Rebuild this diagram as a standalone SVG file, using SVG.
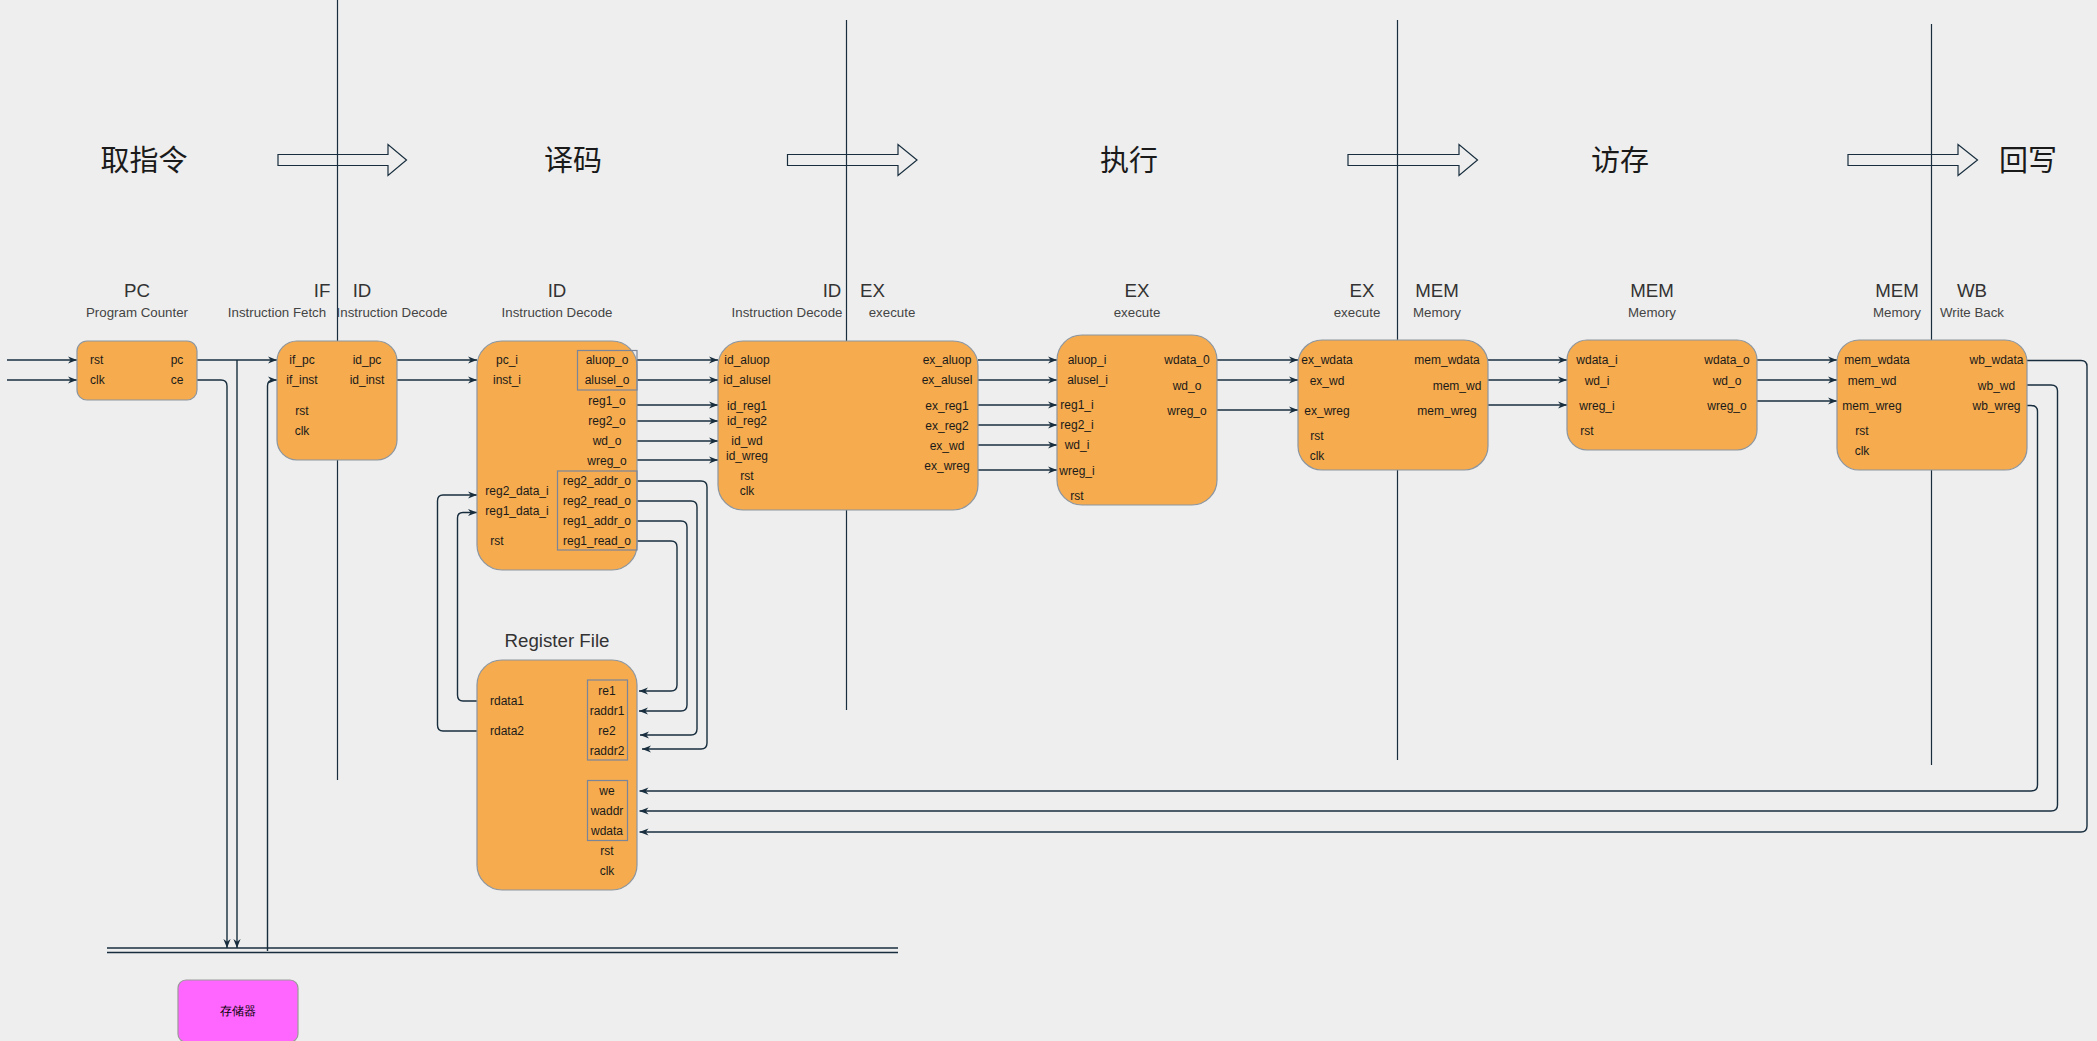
<svg xmlns="http://www.w3.org/2000/svg" width="2097" height="1041" viewBox="0 0 2097 1041">
<defs>
<marker id="ah" viewBox="0 0 10 10" refX="10" refY="5" markerWidth="9" markerHeight="9" markerUnits="userSpaceOnUse" orient="auto">
<path d="M0,1 L10,5 L0,9 L3,5 z" fill="#182E3E"/>
</marker>
<style>
.box{fill:#F5AB4E;stroke:#8C96A0;stroke-width:1.2}
.grp{fill:none;stroke:#7A8599;stroke-width:1.2}
.sep{stroke:#182E3E;stroke-width:1.2}
.ln{fill:none;stroke:#182E3E;stroke-width:1.4}
.ar{fill:none;stroke:#182E3E;stroke-width:1.4;marker-end:url(#ah)}
.blk{fill:none;stroke:#182E3E;stroke-width:1.2}
text{font-family:"Liberation Sans",Arial,Helvetica,sans-serif}
.t{font-size:18.7px;fill:#333;text-anchor:middle}
.s{font-size:13.3px;fill:#444;text-anchor:middle}
.p{font-size:12px;fill:#1a1a1a;text-anchor:middle;dominant-baseline:central}
.ps{font-size:12px;fill:#1a1a1a;text-anchor:start;dominant-baseline:central}
.cn{font-family:"Noto Sans CJK SC","Liberation Sans",sans-serif;font-size:29px;fill:#1a1a1a;text-anchor:middle}
</style>
</defs>
<rect x="0" y="0" width="2097" height="1041" fill="#EEEEEE"/>

<g id="separators">
<line class="sep" x1="337.5" y1="0" x2="337.5" y2="780"/>
<line class="sep" x1="846.5" y1="20" x2="846.5" y2="710"/>
<line class="sep" x1="1397.5" y1="20" x2="1397.5" y2="760"/>
<line class="sep" x1="1931.5" y1="24" x2="1931.5" y2="765"/>
</g>

<g id="stages">
<text class="cn" x="144" y="171">取指令</text>
<text class="cn" x="573" y="171">译码</text>
<text class="cn" x="1129" y="171">执行</text>
<text class="cn" x="1620" y="171">访存</text>
<text class="cn" x="2028" y="171">回写</text>
<polygon class="blk" points="278,154.5 388,154.5 388,144.5 406.5,160 388,175.5 388,165.5 278,165.5"/>
<polygon class="blk" points="787.5,154.5 898,154.5 898,144.5 917,160 898,175.5 898,165.5 787.5,165.5"/>
<polygon class="blk" points="1348,154.5 1459,154.5 1459,144.5 1477.5,160 1459,175.5 1459,165.5 1348,165.5"/>
<polygon class="blk" points="1848,154.5 1958,154.5 1958,144.5 1977.5,160 1958,175.5 1958,165.5 1848,165.5"/>
</g>

<g id="bus">
<line class="ln" x1="107" y1="948" x2="898" y2="948"/>
<line class="ln" x1="107" y1="952.5" x2="898" y2="952.5"/>
</g>

<g id="connectors">
<path class="ar" d="M7,360 H77"/>
<path class="ar" d="M7,380 H77"/>
<path class="ar" d="M197,360 H277"/>
<path class="ar" d="M237,360 V948"/>
<path class="ar" d="M197,380 H221 Q227,380 227,386 V948"/>
<path class="ar" d="M267.5,951 V386 Q267.5,380 273.5,380 H277"/>
<path class="ar" d="M397,360 H477"/>
<path class="ar" d="M397,380 H477"/>
<path class="ar" d="M637,360 H718"/>
<path class="ar" d="M637,380 H718"/>
<path class="ar" d="M637,405 H718"/>
<path class="ar" d="M637,421 H718"/>
<path class="ar" d="M637,441 H718"/>
<path class="ar" d="M637,460 H718"/>
<path class="ar" d="M978,360 H1057"/>
<path class="ar" d="M978,380 H1057"/>
<path class="ar" d="M978,405 H1057"/>
<path class="ar" d="M978,425 H1057"/>
<path class="ar" d="M978,445 H1057"/>
<path class="ar" d="M978,470 H1057"/>
<path class="ar" d="M1217,360 H1298"/>
<path class="ar" d="M1217,380 H1298"/>
<path class="ar" d="M1217,410 H1298"/>
<path class="ar" d="M1488,360 H1567"/>
<path class="ar" d="M1488,380 H1567"/>
<path class="ar" d="M1488,405 H1567"/>
<path class="ar" d="M1757,360 H1837"/>
<path class="ar" d="M1757,380 H1837"/>
<path class="ar" d="M1757,401 H1837"/>
<path class="ar" d="M2018,360.5 H2081 Q2087,360.5 2087,366.5 V826 Q2087,832 2081,832 H639.5"/>
<path class="ar" d="M2018,385 H2051 Q2057.5,385 2057.5,391 V805 Q2057.5,811 2051,811 H639.5"/>
<path class="ar" d="M2020,405.5 H2031 Q2037.5,405.5 2037.5,411.5 V785 Q2037.5,791 2031,791 H639.5"/>
<path class="ar" d="M637,481 H701 Q707,481 707,487 V743 Q707,749 701,749 H642"/>
<path class="ar" d="M637,501 H691 Q697,501 697,507 V729 Q697,735 691,735 H640"/>
<path class="ar" d="M637,521 H681 Q687,521 687,527 V705 Q687,711 681,711 H639"/>
<path class="ar" d="M637,541 H671 Q677,541 677,547 V685 Q677,691 671,691 H639"/>
<path class="ar" d="M487,701 H463 Q457.5,701 457.5,695 V518 Q457.5,512.5 463,512.5 H477"/>
<path class="ar" d="M487,731 H443 Q437.5,731 437.5,725 V501 Q437.5,495 443,495 H477"/>
</g>

<g id="node-pc">
<text class="t" x="137" y="297">PC</text>
<text class="s" x="137" y="317">Program Counter</text>
<rect class="box" x="77" y="341" width="120" height="59" rx="10"/>
<text class="ps" x="90" y="360">rst</text>
<text class="ps" x="90" y="380">clk</text>
<text class="p" x="177" y="360">pc</text>
<text class="p" x="177" y="380">ce</text>
</g>

<g id="node-if-id">
<text class="t" x="322" y="297">IF</text>
<text class="t" x="362" y="297">ID</text>
<text class="s" x="277" y="317">Instruction Fetch</text>
<text class="s" x="392" y="317">Instruction Decode</text>
<rect class="box" x="277" y="341" width="120" height="119" rx="20"/>
<text class="p" x="302" y="360">if_pc</text>
<text class="p" x="302" y="380">if_inst</text>
<text class="p" x="302" y="410.5">rst</text>
<text class="p" x="302" y="430.5">clk</text>
<text class="p" x="367" y="360">id_pc</text>
<text class="p" x="367" y="380">id_inst</text>
</g>

<g id="node-id">
<text class="t" x="557" y="297">ID</text>
<text class="s" x="557" y="317">Instruction Decode</text>
<rect class="box" x="477" y="341" width="160" height="229" rx="25"/>
<rect class="grp" x="577.5" y="350.5" width="59.5" height="39.5"/>
<rect class="grp" x="557.5" y="471" width="79.5" height="79"/>
<text class="p" x="507" y="360">pc_i</text>
<text class="p" x="507" y="380">inst_i</text>
<text class="p" x="517" y="490.5">reg2_data_i</text>
<text class="p" x="517" y="510.5">reg1_data_i</text>
<text class="p" x="497" y="540.5">rst</text>
<text class="p" x="607" y="360">aluop_o</text>
<text class="p" x="607" y="380">alusel_o</text>
<text class="p" x="607" y="401">reg1_o</text>
<text class="p" x="607" y="421">reg2_o</text>
<text class="p" x="607" y="441">wd_o</text>
<text class="p" x="607" y="461">wreg_o</text>
<text class="p" x="597" y="480.5">reg2_addr_o</text>
<text class="p" x="597" y="500.5">reg2_read_o</text>
<text class="p" x="597" y="520.5">reg1_addr_o</text>
<text class="p" x="597" y="540.5">reg1_read_o</text>
</g>

<g id="node-id-ex">
<text class="t" x="832" y="297">ID</text>
<text class="t" x="872.5" y="297">EX</text>
<text class="s" x="787" y="317">Instruction Decode</text>
<text class="s" x="892" y="317">execute</text>
<rect class="box" x="718" y="341" width="260" height="169" rx="25"/>
<text class="p" x="747" y="360">id_aluop</text>
<text class="p" x="747" y="380">id_alusel</text>
<text class="p" x="747" y="405.5">id_reg1</text>
<text class="p" x="747" y="420.5">id_reg2</text>
<text class="p" x="747" y="440.5">id_wd</text>
<text class="p" x="747" y="455.5">id_wreg</text>
<text class="p" x="747" y="475.5">rst</text>
<text class="p" x="747" y="490.5">clk</text>
<text class="p" x="947" y="360">ex_aluop</text>
<text class="p" x="947" y="380">ex_alusel</text>
<text class="p" x="947" y="405.5">ex_reg1</text>
<text class="p" x="947" y="425.5">ex_reg2</text>
<text class="p" x="947" y="445.5">ex_wd</text>
<text class="p" x="947" y="465.5">ex_wreg</text>
</g>

<g id="node-ex">
<text class="t" x="1137" y="297">EX</text>
<text class="s" x="1137" y="317">execute</text>
<rect class="box" x="1057" y="335" width="160" height="170" rx="25"/>
<text class="p" x="1087" y="360">aluop_i</text>
<text class="p" x="1087.5" y="380">alusel_i</text>
<text class="p" x="1077" y="405">reg1_i</text>
<text class="p" x="1077" y="425">reg2_i</text>
<text class="p" x="1077" y="445">wd_i</text>
<text class="p" x="1077" y="470.5">wreg_i</text>
<text class="p" x="1077" y="495.5">rst</text>
<text class="p" x="1187" y="360">wdata_0</text>
<text class="p" x="1187" y="385.5">wd_o</text>
<text class="p" x="1187" y="410.5">wreg_o</text>
</g>

<g id="node-ex-mem">
<text class="t" x="1362" y="297">EX</text>
<text class="t" x="1437" y="297">MEM</text>
<text class="s" x="1357" y="317">execute</text>
<text class="s" x="1437" y="317">Memory</text>
<rect class="box" x="1298" y="340" width="190" height="130" rx="24"/>
<text class="p" x="1327" y="360">ex_wdata</text>
<text class="p" x="1327" y="380.5">ex_wd</text>
<text class="p" x="1327" y="411">ex_wreg</text>
<text class="p" x="1317" y="435.5">rst</text>
<text class="p" x="1317" y="455.5">clk</text>
<text class="p" x="1447" y="360">mem_wdata</text>
<text class="p" x="1457" y="385.5">mem_wd</text>
<text class="p" x="1447" y="410.5">mem_wreg</text>
</g>

<g id="node-mem">
<text class="t" x="1652" y="297">MEM</text>
<text class="s" x="1652" y="317">Memory</text>
<rect class="box" x="1567" y="340" width="190" height="110" rx="20"/>
<text class="p" x="1597" y="360">wdata_i</text>
<text class="p" x="1597" y="380.5">wd_i</text>
<text class="p" x="1597" y="406">wreg_i</text>
<text class="p" x="1587" y="430.5">rst</text>
<text class="p" x="1727" y="360">wdata_o</text>
<text class="p" x="1727" y="380.5">wd_o</text>
<text class="p" x="1727" y="406">wreg_o</text>
</g>

<g id="node-mem-wb">
<text class="t" x="1897" y="297">MEM</text>
<text class="t" x="1972" y="297">WB</text>
<text class="s" x="1897" y="317">Memory</text>
<text class="s" x="1972" y="317">Write Back</text>
<rect class="box" x="1837" y="340" width="190" height="130" rx="22"/>
<text class="p" x="1877" y="360">mem_wdata</text>
<text class="p" x="1872" y="380.5">mem_wd</text>
<text class="p" x="1872" y="406">mem_wreg</text>
<text class="p" x="1862" y="430.5">rst</text>
<text class="p" x="1862" y="450.5">clk</text>
<text class="p" x="1996.5" y="360">wb_wdata</text>
<text class="p" x="1996.5" y="385.5">wb_wd</text>
<text class="p" x="1996.5" y="406">wb_wreg</text>
</g>

<g id="node-regfile">
<text class="t" x="557" y="647">Register File</text>
<rect class="box" x="477" y="660" width="160" height="230" rx="25"/>
<rect class="grp" x="587.5" y="680" width="40" height="80"/>
<rect class="grp" x="587.5" y="780.5" width="40" height="60"/>
<text class="ps" x="490" y="700.5">rdata1</text>
<text class="ps" x="490" y="730.5">rdata2</text>
<text class="p" x="607" y="690.5">re1</text>
<text class="p" x="607" y="710.5">raddr1</text>
<text class="p" x="607" y="730.5">re2</text>
<text class="p" x="607" y="750.5">raddr2</text>
<text class="p" x="607" y="790.5">we</text>
<text class="p" x="607" y="810.5">waddr</text>
<text class="p" x="607" y="830.5">wdata</text>
<text class="p" x="607" y="850.5">rst</text>
<text class="p" x="607" y="870.5">clk</text>
</g>

<g id="node-memory">
<rect x="178" y="980" width="120" height="62" rx="8" fill="#FF66FF" stroke="#9A9A9A" stroke-width="1.2"/>
<text x="238" y="1011" font-family="'Noto Sans CJK SC','Liberation Sans',sans-serif" font-size="12" fill="#000" text-anchor="middle" dominant-baseline="central">存储器</text>
</g>
</svg>
